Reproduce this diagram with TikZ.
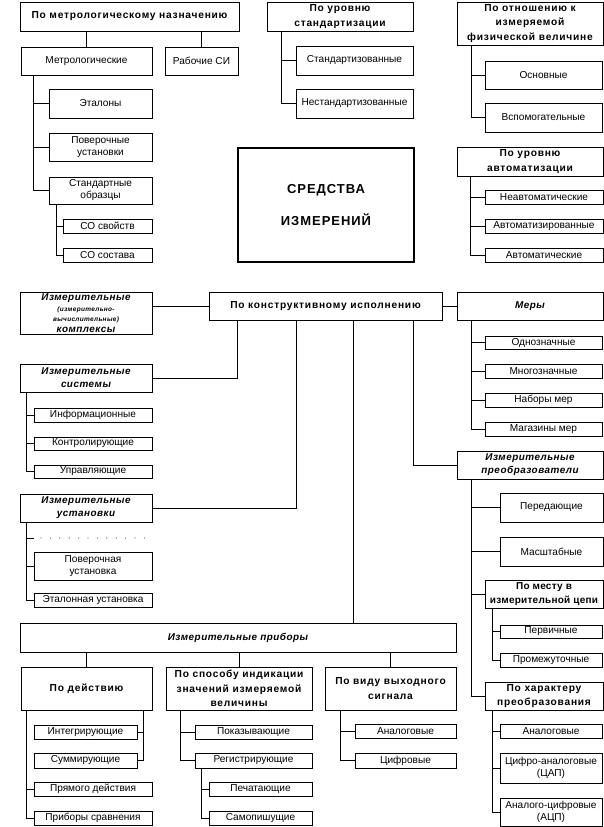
\documentclass[tikz,border=0pt]{standalone}
\usepackage{fontspec}
\usetikzlibrary{calc}
\setmainfont{Liberation Sans}
\newfontfamily\hdfam{Liberation Sans}[LetterSpace=7.5]
\newfontfamily\itfam{Liberation Sans}[LetterSpace=5]
\newfontfamily\tightfam{Liberation Sans}[LetterSpace=2.5]
\newcommand\nrmfont{\fontsize{10.1}{12}\selectfont}
\newcommand\hdrfont{\hdfam\bfseries\fontsize{10.2}{14.5}\selectfont}
\newcommand\itlfont{\itfam\bfseries\itshape\fontsize{9.9}{13}\selectfont}
\newcommand\bx[7][]{\node[box,#1,minimum width={(#5-#3)*1pt},minimum height={(#6-#4)*1pt}] (#2) at ({(#3+#5)/2},{(#4+#6)/2}) {#7};}
\begin{document}
\begin{tikzpicture}[x=1pt,y=-1pt,
  box/.style={draw,line width=0.9pt,inner sep=1pt,align=center,font=\nrmfont,fill=white},
  hdr/.style={font=\hdrfont},
  itl/.style={font=\itlfont},
  ctr/.style={line width=2pt,font={\hdfam\bfseries\fontsize{13}{32}\selectfont}},
  link/.style={line width=0.9pt}]
\useasboundingbox (0,0) rectangle (604,827);
% --- top left
\bx[hdr]{hmet}{20}{2}{239}{31}{По метрологическому назначению}
\bx{met}{21}{47}{152}{75}{Метрологические}
\bx{rab}{165}{47}{238}{75}{Рабочие СИ}
\bx{etal}{49}{89}{152}{118}{Эталоны}
\bx{pover}{49}{133}{152}{161}{Поверочные\\установки}
\bx{stobr}{49}{177}{152}{204}{Стандартные\\образцы}
\bx{sosv}{63}{219}{152}{233}{СО свойств}
\bx{sosost}{63}{248}{152}{262}{СО состава}
% --- top middle
\bx[hdr]{hstd}{267}{2}{413}{31}{По уровню\\стандартизации}
\bx{std}{296}{46}{413}{75}{Стандартизованные}
\bx{nstd}{296}{89}{413}{118}{Нестандартизованные}
\bx[ctr]{main}{238}{148}{414}{262}{СРЕДСТВА\\ИЗМЕРЕНИЙ}
% --- top right
\bx[hdr]{hotn}{457}{2}{603}{45}{По отношению к\\измеряемой\\физической величине}
\bx{osn}{485}{61}{602}{89}{Основные}
\bx{vsp}{485}{103}{602}{132}{Вспомогательные}
\bx[hdr]{havt}{457}{147}{603}{176}{По уровню\\автоматизации}
\bx{neavt}{485}{190}{603}{204}{Неавтоматические}
\bx{avtz}{485}{219}{603}{233}{Автоматизированные}
\bx{avt}{485}{248}{603}{262}{Автоматические}
% --- constructive
\bx[itl,font={\itlfont\fontsize{9.9}{11.5}\selectfont}]{komp}{20}{292}{152}{334}{Измерительные\\{\fontsize{6.5}{8}\selectfont (измерительно-}\\[-2pt]{\fontsize{6.5}{8}\selectfont вычислительные)}\\комплексы}
\bx[hdr]{konstr}{209}{292}{442}{320}{По конструктивному исполнению}
\bx[itl]{mery}{457}{292}{603}{320}{Меры}
\bx[itl]{sys}{20}{364}{152}{392}{Измерительные\\системы}
\bx{inf}{34}{408}{152}{422}{Информационные}
\bx{kontr}{34}{437}{152}{450}{Контролирующие}
\bx{upr}{34}{465}{152}{478}{Управляющие}
\bx[itl]{ust}{20}{494}{152}{522}{Измерительные\\установки}
\bx{povust}{34}{552}{152}{580}{Поверочная\\установка}
\bx{etust}{34}{593}{152}{607}{Эталонная установка}
\bx{odn}{485}{336}{602}{349}{Однозначные}
\bx{mnog}{485}{364}{602}{378}{Многозначные}
\bx{nab}{485}{393}{602}{407}{Наборы мер}
\bx{mag}{485}{422}{602}{436}{Магазины мер}
\bx[itl]{preob}{457}{451}{603}{479}{Измерительные\\преобразователи}
\bx{pered}{500}{493}{603}{522}{Передающие}
\bx{masht}{500}{537}{603}{566}{Масштабные}
\bx[font={\tightfam\bfseries\fontsize{10}{14.5}\selectfont}]{pomestu}{485}{580}{603}{608}{По месту в\\измерительной цепи}
\bx{perv}{500}{625}{602}{638}{Первичные}
\bx{prom}{500}{653}{602}{667}{Промежуточные}
\bx[hdr]{pohar}{485}{682}{603}{710}{По характеру\\преобразования}
\bx{antwo}{500}{724}{602}{738}{Аналоговые}
\bx{cap}{500}{753}{602}{783}{Цифро-аналоговые\\(ЦАП)}
\bx{acp}{500}{798}{602}{826}{Аналого-цифровые\\(АЦП)}
% --- instruments
\bx[itl]{prib}{20}{623}{456}{652}{Измерительные приборы}
\bx[hdr]{pdeist}{21}{667}{152}{710}{По действию}
\bx[hdr]{psposob}{166}{667}{312}{710}{По способу индикации\\значений измеряемой\\величины}
\bx[hdr]{pvid}{325}{667}{456}{710}{По виду выходного\\сигнала}
\bx{integ}{34}{725}{137}{739}{Интегрирующие}
\bx{summ}{34}{753}{137}{768}{Суммирующие}
\bx{pryam}{34}{782}{152}{796}{Прямого действия}
\bx{sravn}{34}{811}{152}{825}{Приборы сравнения}
\bx{pokaz}{195}{725}{312}{739}{Показывающие}
\bx{registr}{195}{753}{312}{768}{Регистрирующие}
\bx{pechat}{209}{782}{312}{796}{Печатающие}
\bx{samop}{209}{811}{312}{825}{Самопишущие}
\bx{anone}{355}{724}{456}{738}{Аналоговые}
\bx{cifr}{355}{753}{456}{768}{Цифровые}
% ================= connectors
\begin{scope}[link]
\draw (met.north) -- (met.north |- hmet.south);
\draw (rab.north) -- (rab.north |- hmet.south);
\foreach \c in {etal,pover,stobr} \draw ([xshift=13pt]met.south west) |- (\c.west);
\foreach \c in {sosv,sosost} \draw ([xshift=8pt]stobr.south west) |- (\c.west);
\foreach \c in {std,nstd} \draw ([xshift=15pt]hstd.south west) |- (\c.west);
\foreach \c in {osn,vsp} \draw ([xshift=15pt]hotn.south west) |- (\c.west);
\foreach \c in {neavt,avtz,avt} \draw ([xshift=14pt]havt.south west) |- (\c.west);
\draw (konstr.west) -- (konstr.west -| komp.east);
\draw (konstr.east) -- (mery.west);
\draw ([xshift=29pt]konstr.south west) |- (sys.east);
\draw ([xshift=88pt]konstr.south west) |- (ust.east);
\draw ([xshift=145pt]konstr.south west) coordinate (kp) -- (kp |- prib.north);
\draw ([xshift=205pt]konstr.south west) |- (preob.west);
\foreach \c in {inf,kontr,upr} \draw ([xshift=7pt]sys.south west) |- (\c.west);
\coordinate (dotsw) at (34,538);
\foreach \c in {dotsw,povust,etust} \draw ([xshift=7pt]ust.south west) |- (\c.west);
\foreach \c in {odn,mnog,nab,mag} \draw ([xshift=15pt]mery.south west) |- (\c.west);
\foreach \c in {pered,masht,pomestu,pohar} \draw ([xshift=15pt]preob.south west) |- (\c.west);
\foreach \c in {perv,prom} \draw ([xshift=8pt]pomestu.south west) |- (\c.west);
\foreach \c in {antwo,cap,acp} \draw ([xshift=8pt]pohar.south west) |- (\c.west);
\foreach \c in {pdeist,psposob,pvid} \draw (\c.north) -- (\c.north |- prib.south);
\foreach \c in {pryam,sravn} \draw ([xshift=6pt]pdeist.south west) |- (\c.west);
\foreach \c in {integ,summ} \draw ([xshift=-9pt]pdeist.south east) |- (\c.east);
\foreach \c in {pokaz,registr} \draw ([xshift=15pt]psposob.south west) |- (\c.west);
\foreach \c in {pechat,samop} \draw ([xshift=7pt]registr.south west) |- (\c.west);
\foreach \c in {anone,cifr} \draw ([xshift=16pt]pvid.south west) |- (\c.west);
\end{scope}
\foreach \i in {0,...,11} \fill[black!70] ($(dotsw)+(7+\i*9.4,0)$) circle (0.6);
\end{tikzpicture}
\end{document}
